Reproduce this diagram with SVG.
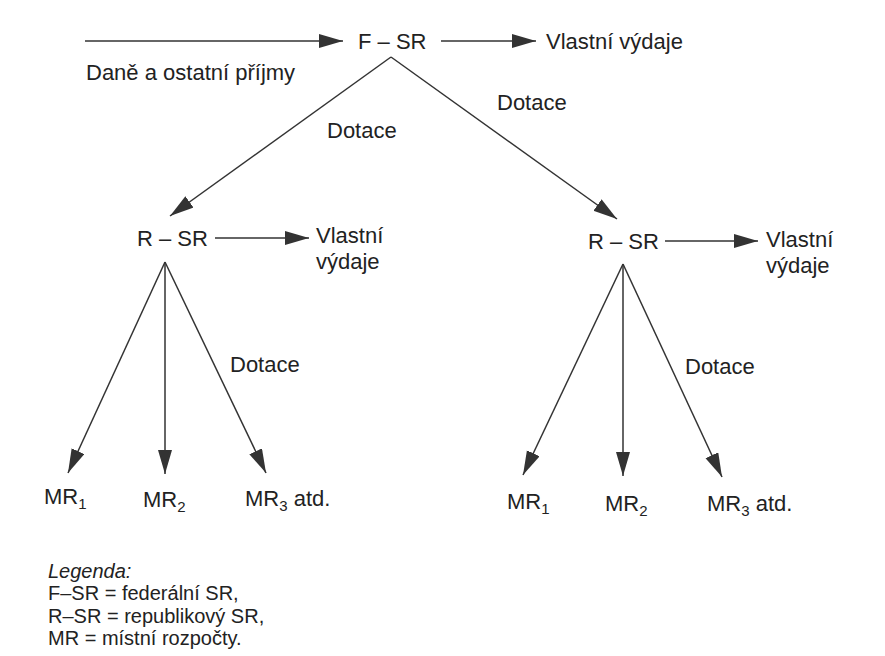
<svg xmlns="http://www.w3.org/2000/svg" width="885" height="656" viewBox="0 0 885 656">
<defs>
<style>
text{font-family:"Liberation Sans",Arial,sans-serif;fill:#222;}
.m{font-size:22px;}
.mr{font-size:22px;}
.sub{font-size:15px;}
.lg{font-size:20px;}
.it{font-style:italic;}
.c line{stroke:#333;stroke-width:1.5;fill:none;marker-end:url(#ah);}
</style>
<marker id="ah" markerUnits="userSpaceOnUse" markerWidth="26" markerHeight="16" refX="24" refY="7" orient="auto">
<path d="M0,0 L24,7 L0,14 z" fill="#333"/>
</marker>
</defs>
<rect width="885" height="656" fill="#fff"/>
<g id="connectors" class="c">
<line x1="85" y1="41" x2="343" y2="41"/>
<line x1="441" y1="41" x2="536" y2="41"/>
<line x1="391" y1="57" x2="170" y2="216"/>
<line x1="391" y1="57" x2="617" y2="219"/>
<line x1="215" y1="238" x2="309" y2="238"/>
<line x1="665" y1="241" x2="758" y2="241"/>
<line x1="165" y1="262" x2="68" y2="473"/>
<line x1="165" y1="262" x2="165" y2="474"/>
<line x1="165" y1="262" x2="266" y2="473"/>
<line x1="623" y1="264" x2="523" y2="475"/>
<line x1="623" y1="264" x2="623" y2="476"/>
<line x1="623" y1="264" x2="722" y2="477"/>
</g>
<g id="income"><text class="m" x="86" y="80">Daně a ostatní příjmy</text></g>
<g id="fsr"><text class="m" x="358" y="49">F – SR</text></g>
<g id="fsr-vydaje"><text class="m" x="546" y="49">Vlastní výdaje</text></g>
<g id="dotace-1"><text class="m" x="327" y="138">Dotace</text></g>
<g id="dotace-2"><text class="m" x="497" y="110">Dotace</text></g>
<g id="rsr-left"><text class="m" x="137" y="246">R – SR</text></g>
<g id="rsr-left-vydaje"><text class="m" x="316" y="243">Vlastní</text><text class="m" x="316" y="269">výdaje</text></g>
<g id="rsr-right"><text class="m" x="588" y="249">R – SR</text></g>
<g id="rsr-right-vydaje"><text class="m" x="766" y="247">Vlastní</text><text class="m" x="766" y="273">výdaje</text></g>
<g id="dotace-3"><text class="m" x="230" y="372">Dotace</text></g>
<g id="dotace-4"><text class="m" x="685" y="374">Dotace</text></g>
<g id="mr1-left"><text class="mr" x="44" y="504">MR<tspan class="sub" dy="5">1</tspan></text></g>
<g id="mr2-left"><text class="mr" x="143" y="507">MR<tspan class="sub" dy="5">2</tspan></text></g>
<g id="mr3-left"><text class="mr" x="245" y="506">MR<tspan class="sub" dy="5">3</tspan><tspan dy="-5"> atd.</tspan></text></g>
<g id="mr1-right"><text class="mr" x="507" y="509">MR<tspan class="sub" dy="5">1</tspan></text></g>
<g id="mr2-right"><text class="mr" x="605" y="511">MR<tspan class="sub" dy="5">2</tspan></text></g>
<g id="mr3-right"><text class="mr" x="707" y="511">MR<tspan class="sub" dy="5">3</tspan><tspan dy="-5"> atd.</tspan></text></g>
<g id="legend">
<text class="lg it" x="48" y="578">Legenda:</text>
<text class="lg" x="48" y="600">F–SR = federální SR,</text>
<text class="lg" x="48" y="623">R–SR = republikový SR,</text>
<text class="lg" x="48" y="645">MR = místní rozpočty.</text>
</g>
</svg>
